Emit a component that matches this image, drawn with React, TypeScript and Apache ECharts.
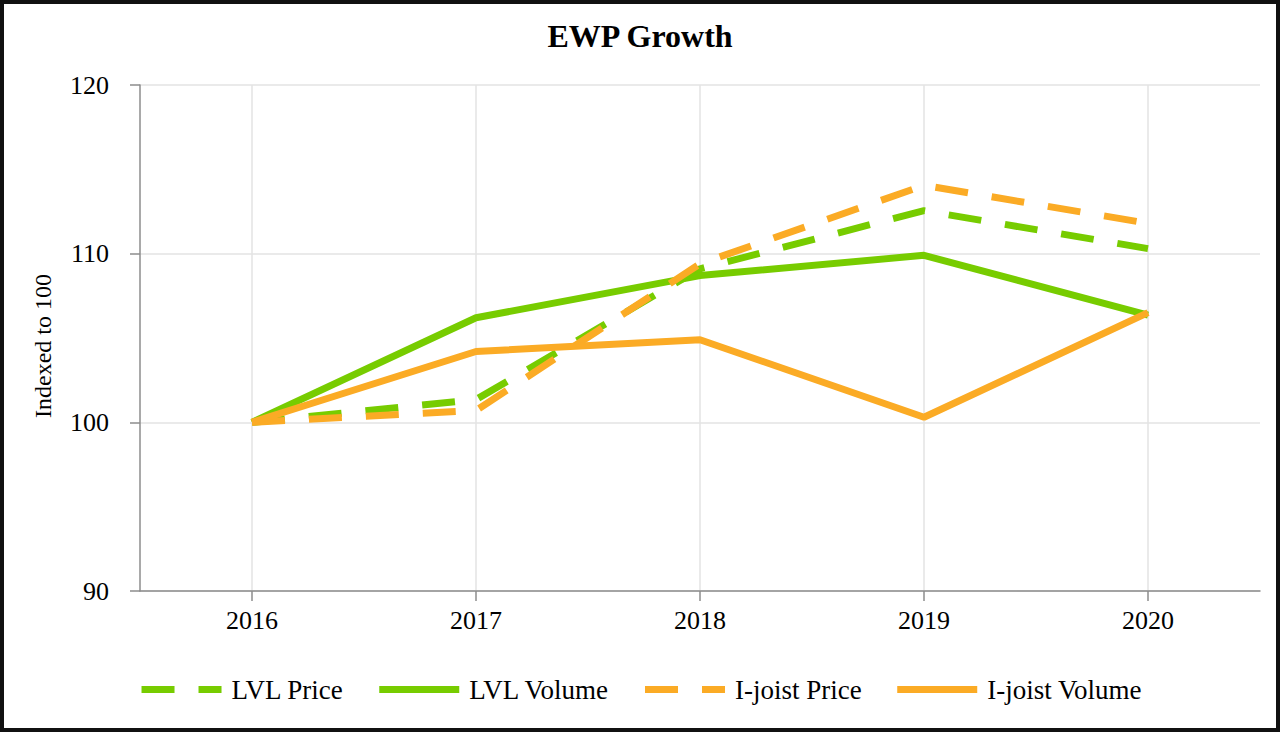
import React, { useEffect, useRef } from "react";
import * as echarts from "echarts";

const years = ["2016", "2017", "2018", "2019", "2020"];
const lvlPrice = [100, 101.35, 109.1, 112.55, 110.3];
const lvlVolume = [100, 106.2, 108.7, 109.9, 106.35];
const ijoistPrice = [100, 100.7, 109.4, 114.05, 111.8];
const ijoistVolume = [100, 104.2, 104.9, 100.3, 106.5];
const seriesNames = ["LVL Price", "LVL Volume", "I-joist Price", "I-joist Volume"];

const GREEN = "#77CC00";
const ORANGE = "#FBAB25";
const FONT = "'Liberation Serif', 'Times New Roman', serif";

export default function App() {
  const ref = useRef<HTMLDivElement>(null);
  useEffect(() => {
    if (!ref.current) return;
    const chart = echarts.init(ref.current, undefined, { renderer: "svg" });
    const dash = [33, 24];
    const mk = (name: string, data: number[], color: string, dashed: boolean) => ({
      name,
      type: "line",
      data,
      symbol: "none",
      showSymbol: false,
      lineStyle: { color, width: 7, type: dashed ? dash : "solid" },
      itemStyle: { color },
      emphasis: { disabled: true },
    });
    chart.setOption({
      animation: false,
      backgroundColor: "#fff",
      textStyle: { fontFamily: FONT },
      title: {
        text: "EWP Growth",
        left: "center",
        top: 15,
        textStyle: { fontFamily: FONT, fontSize: 32, fontWeight: "bold", color: "#000" },
      },
      legend: {
        data: seriesNames,
        bottom: 24,
        left: "center",
        itemWidth: 80,
        itemHeight: 7,
        itemGap: 32,
        itemStyle: { opacity: 0 },
        lineStyle: { width: 7 },
        textStyle: { fontFamily: FONT, fontSize: 27, color: "#000", padding: [0, 0, 0, 5] },
      },
      grid: { left: 140, right: 20, top: 85, bottom: 141, containLabel: false },
      xAxis: {
        type: "category",
        data: years,
        boundaryGap: true,
        axisLine: { lineStyle: { color: "#8c8c8c", width: 1.5 } },
        axisTick: { show: true, alignWithLabel: true, length: 10, lineStyle: { color: "#8c8c8c", width: 1.5 } },
        axisLabel: { fontFamily: FONT, fontSize: 26, color: "#000", margin: 16 },
        splitLine: { show: true, alignWithLabel: true, lineStyle: { color: "#e3e3e3", width: 1.5 } },
      },
      yAxis: {
        type: "value",
        min: 90,
        max: 120,
        interval: 10,
        name: "Indexed to 100",
        nameLocation: "middle",
        nameGap: 85,
        nameTextStyle: { fontFamily: FONT, fontSize: 24, color: "#000", padding: [0, 16, 0, 0] },
        axisLine: { show: true, lineStyle: { color: "#8c8c8c", width: 1.5 } },
        axisTick: { show: true, length: 10, lineStyle: { color: "#8c8c8c", width: 1.5 } },
        axisLabel: { fontFamily: FONT, fontSize: 26, color: "#000", margin: 31 },
        splitLine: { show: true, lineStyle: { color: "#e3e3e3", width: 1.5 } },
      },
      series: [
        mk(seriesNames[0], lvlPrice, GREEN, true),
        mk(seriesNames[1], lvlVolume, GREEN, false),
        mk(seriesNames[2], ijoistPrice, ORANGE, true),
        mk(seriesNames[3], ijoistVolume, ORANGE, false),
      ],
    });
    return () => chart.dispose();
  }, []);
  return (
    <div style={{ position: "fixed", left: 0, top: 0, width: 1280, height: 732, background: "#fff" }}>
      <div ref={ref} style={{ position: "absolute", left: 0, top: 0, width: 1280, height: 732 }} />
      <div
        style={{
          position: "absolute",
          left: 0,
          top: 0,
          width: 1280,
          height: 732,
          boxSizing: "border-box",
          border: "4px solid #111",
          pointerEvents: "none",
        }}
      />
    </div>
  );
}
